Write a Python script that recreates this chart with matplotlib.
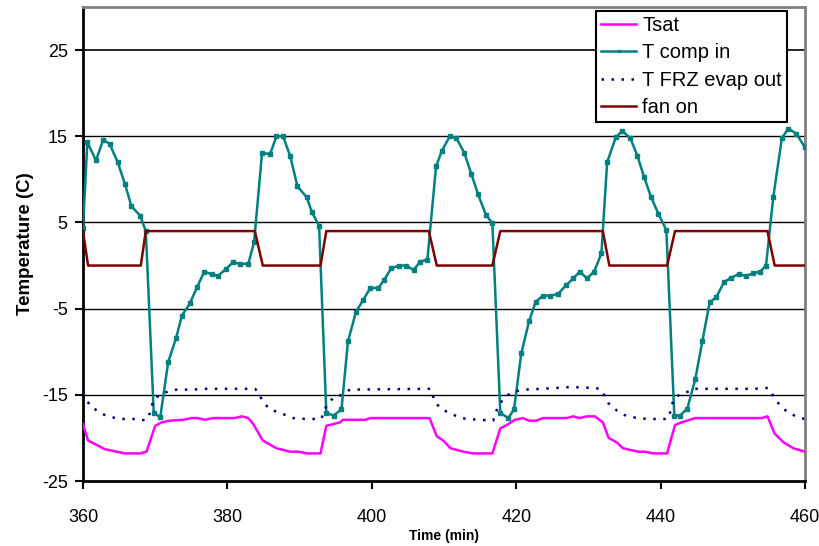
import matplotlib
matplotlib.use("Agg")
import matplotlib.pyplot as plt

plt.rcParams['font.family'] = ['Liberation Sans', 'DejaVu Sans']
plt.rcParams['axes.unicode_minus'] = False

# T comp in (teal, with markers)
t_comp = [360.0, 360.6, 361.8, 362.8, 363.7, 364.8, 365.8, 366.7, 367.9, 368.7,
          369.8, 370.7, 371.8, 372.9, 373.7, 374.8, 375.8, 376.8, 377.8, 378.7,
          379.8, 380.8, 381.7, 382.9, 383.7, 384.8, 385.9, 386.8, 387.7, 388.7,
          389.7, 391.0, 391.7, 392.7, 393.7, 394.7, 395.8, 396.7, 397.8, 398.8,
          399.8, 400.9, 401.7, 402.7, 403.8, 404.7, 405.8, 406.7, 407.7, 408.9,
          409.7, 410.8, 411.7, 412.8, 413.8, 414.7, 415.8, 416.7, 417.8, 418.9,
          419.7, 420.7, 421.8, 422.7, 423.7, 424.7, 425.8, 426.9, 427.9, 428.8,
          429.8, 430.8, 431.8, 432.6, 433.8, 434.7, 435.8, 436.8, 437.7, 438.7,
          439.7, 440.8, 441.9, 442.7, 443.7, 444.8, 445.8, 446.8, 447.7, 448.8,
          449.8, 450.8, 451.8, 452.8, 453.8, 454.6, 455.6, 456.8, 457.7, 458.8,
          460.0]
y_comp = [4.4, 14.3, 12.2, 14.6, 14.1, 12.0, 9.5, 6.9, 5.8, 4.0,
          -17.1, -17.6, -11.2, -8.4, -5.8, -4.4, -2.5, -0.7, -1.0, -1.2,
          -0.4, 0.4, 0.2, 0.2, 2.75, 13.1, 12.9, 15.0, 15.0, 12.7,
          9.2, 7.9, 6.2, 4.6, -17.1, -17.4, -16.7, -8.8, -5.4, -4.0,
          -2.6, -2.6, -1.7, -0.3, 0.0, 0.0, -0.5, 0.45, 0.7, 11.5,
          13.3, 15.0, 14.8, 13.1, 10.6, 8.3, 5.9, 4.9, -17.1, -17.7,
          -16.7, -10.2, -6.4, -4.2, -3.5, -3.5, -3.3, -2.3, -1.5, -0.7,
          -1.5, -0.7, 1.4, 12.0, 14.9, 15.6, 14.8, 12.7, 10.3, 7.9,
          6.0, 4.1, -17.4, -17.4, -16.6, -13.2, -8.7, -4.25, -3.7, -1.9,
          -1.4, -1.0, -1.2, -0.9, -0.7, 0.0, 7.9, 14.8, 15.9, 15.3,
          13.7]

# T FRZ evap out (navy, dotted)
t_frz = [360.0, 361.0, 361.9, 362.9, 364.0, 365.1, 367.0, 368.0, 369.0, 369.8,
         370.9, 371.8, 372.9, 375.0, 377.0, 383.8, 384.2, 384.9, 385.9, 387.3,
         389.1, 390.9, 393.0, 393.7, 394.7, 395.6, 396.0, 397.0, 408.1, 408.8,
         409.7, 410.8, 412.0, 413.1, 415.0, 416.8, 417.5, 418.4, 419.4, 421.0,
         423.7, 427.5, 431.0, 431.8, 432.8, 433.9, 434.8, 436.0, 438.1, 441.0,
         441.3, 441.8, 442.9, 444.0, 444.5, 453.0, 454.9, 455.6, 456.5, 457.7,
         458.8, 459.9]
y_frz = [-14.8, -16.3, -16.8, -17.3, -17.6, -17.8, -17.8, -18.0, -17.8, -15.5,
         -14.9, -14.6, -14.4, -14.4, -14.3, -14.3, -14.6, -15.8, -16.7, -17.1,
         -17.7, -17.8, -17.8, -16.3, -15.3, -15.1, -14.8, -14.4, -14.3, -15.9,
         -16.7, -17.1, -17.6, -17.8, -17.9, -18.0, -16.3, -15.3, -14.7, -14.4,
         -14.3, -14.1, -14.2, -14.4, -16.0, -16.8, -17.3, -17.6, -17.8, -17.8,
         -17.1, -15.5, -14.8, -14.6, -14.3, -14.3, -14.2, -15.1, -16.2, -17.1,
         -17.5, -17.8]

# Tsat (magenta)
t_sat = [360.0, 360.7, 363.0, 365.8, 367.9, 368.8, 370.0, 370.9, 372.0, 373.9,
         375.0, 375.9, 376.9, 378.0, 381.0, 382.0, 382.9, 383.6, 384.9, 386.8,
         388.7, 389.9, 391.0, 392.9, 393.7, 395.6, 396.0, 399.1, 399.8, 408.0,
         409.0, 409.9, 410.9, 412.7, 414.0, 416.7, 417.8, 418.9, 419.8, 420.9,
         421.8, 422.8, 423.7, 427.0, 427.9, 428.8, 429.8, 430.9, 432.0, 432.8,
         433.9, 434.8, 436.9, 437.8, 439.0, 440.9, 442.0, 442.9, 444.8, 454.0,
         454.8, 455.8, 457.0, 458.4, 460.0]
y_sat = [-18.4, -20.3, -21.3, -21.8, -21.8, -21.6, -18.6, -18.2, -18.0, -17.9,
         -17.7, -17.7, -17.9, -17.7, -17.7, -17.5, -17.7, -18.4, -20.3, -21.2,
         -21.6, -21.6, -21.8, -21.8, -18.6, -18.2, -17.9, -17.9, -17.7, -17.7,
         -19.8, -20.3, -21.2, -21.6, -21.8, -21.8, -18.9, -18.4, -17.9, -17.7,
         -18.0, -18.0, -17.7, -17.7, -17.5, -17.7, -17.5, -17.5, -18.2, -20.0,
         -20.5, -21.2, -21.6, -21.6, -21.8, -21.8, -18.5, -18.2, -17.7, -17.7,
         -17.5, -19.5, -20.5, -21.2, -21.6]

# fan on (maroon)
t_fan = [360.0, 360.7, 368.0, 368.7, 383.8, 384.9, 392.9, 393.7, 407.9, 409.0,
         416.7, 417.8, 432.0, 432.9, 440.9, 442.0, 454.8, 455.8, 460.0]
y_fan = [4, 0, 0, 4, 4, 0, 0, 4, 4, 0, 0, 4, 4, 0, 0, 4, 4, 0, 0]

x_ticks = [360, 380, 400, 420, 440, 460]
y_ticks = [-25, -15, -5, 5, 15, 25]

fig = plt.figure(figsize=(8.2, 5.46), dpi=100)
ax = fig.add_axes([83 / 820, 1 - 481 / 546, 722 / 820, 474 / 546])

for yv in y_ticks[1:]:
    ax.axhline(yv, color='black', lw=1.2 if yv == 25 else 1.0, zorder=1)

ax.plot(t_sat, y_sat, color='#FF00FF', lw=1.8, label='Tsat', zorder=3)
ax.plot(t_comp, y_comp, color='#008080', lw=1.8, marker='s', ms=2.6,
        label='T comp in', zorder=4)
ax.plot(t_frz, y_frz, color='#000080', lw=1.8, ls=(0, (1, 3)),
        label='T FRZ evap out', zorder=5)
ax.plot(t_fan, y_fan, color='#800000', lw=1.8, label='fan on', zorder=6)

ax.set_xlim(360, 460)
ax.set_ylim(-25, 30)
ax.set_xticks(x_ticks)
ax.set_yticks(y_ticks)
ax.tick_params(axis='both', direction='out', length=6, width=1.5,
               labelsize=13, color='black')
ax.tick_params(axis='x', pad=14)
ax.tick_params(axis='y', pad=5)

for side in ['left', 'bottom']:
    ax.spines[side].set_color('black')
    ax.spines[side].set_linewidth(2)
for side in ['top', 'right']:
    ax.spines[side].set_color('#808080')
    ax.spines[side].set_linewidth(2)

ax.set_ylabel('Temperature (C)', fontsize=13.5, fontweight='bold', labelpad=6)
ax.set_xlabel('Time (min)', fontsize=10, fontweight='bold', labelpad=2,
              family=['Liberation Sans Narrow', 'Liberation Sans', 'DejaVu Sans'])

leg = ax.legend(loc='upper right', bbox_to_anchor=(787 / 820, 1 - 11 / 546),
                bbox_transform=fig.transFigure, borderaxespad=0,
                fontsize=14.5, frameon=True, fancybox=False, framealpha=1,
                edgecolor='black', handlelength=1.75, handletextpad=0.3,
                labelspacing=0.42, borderpad=0.25, markerscale=0.6)
leg.get_frame().set_linewidth(1.5)
leg.set_zorder(10)

fig.savefig('out.png', dpi=100)
